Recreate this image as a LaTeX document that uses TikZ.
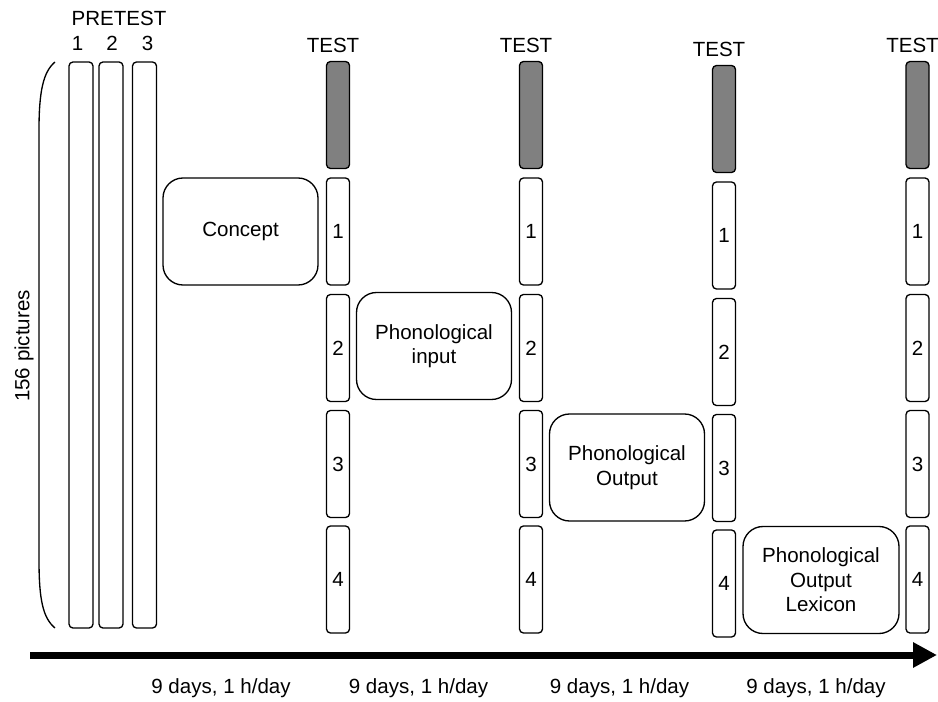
\documentclass[tikz,border=0pt]{standalone}
\usepackage{fontspec}
\setmainfont{Liberation Sans}
\usetikzlibrary{arrows.meta}
\newcommand{\pxu}{0.75pt}

\tikzset{
  bar/.style={draw, line width=1pt, rounded corners=3pt, inner sep=0pt,
    minimum width=23*\pxu, minimum height=107*\pxu},
  testbar/.style={bar, fill=black!50},
  prebar/.style={bar, minimum width=24*\pxu, minimum height=566*\pxu},
  stage/.style={draw, line width=1pt, rounded corners=15pt, inner sep=0pt,
    minimum width=155*\pxu, minimum height=107*\pxu, align=center},
  lbl/.style={inner sep=0pt, anchor=base},
  timeline/.style={line width=5.25pt, -{Triangle[length=18pt,width=18pt]}}
}

\begin{document}
\begin{tikzpicture}[x=\pxu, y=-\pxu, font=\fontsize{15.4}{18.4}\selectfont]
\useasboundingbox (0,0) rectangle (938,702);

% pretest
\node[lbl] (pretest) at (119,26) {PRETEST};
\foreach \k/\x/\lx in {1/81/77.5, 2/111/112, 3/144.5/147.5} {
  \node[lbl] (pre\k) at (\lx,51) {\k};
  \node[prebar] (prebar\k) at (\x,345) {};
}
\draw[line width=1pt] (55,62) .. controls (43,72) and (39,92) .. (39,130)
  -- (39,560) .. controls (39,600) and (43,618) .. (55,628);
\node[inner sep=0pt, rotate=90] (pictures) at (24,346) {156 pictures};

% test columns
\foreach \c/\x/\dy in {a/338/0, b/531/0, c/724/4, d/917.5/0} {
  \node[lbl] (test\c) at (\x-5,53+\dy) {TEST};
  \node[testbar] (grey\c) at (\x,115+\dy) {};
  \foreach \k/\y in {1/231.5, 2/348, 3/464, 4/579.5}
    \node[bar] (\c\k) at (\x,\y+\dy) {\k};
}

% training stages
\node[stage] (concept) at (240.5,231.5) {Concept};
\node[stage] (input) at (434,346) {Phonological\\input};
\node[stage] (output) at (627,467.5) {Phonological\\Output};
\node[stage, minimum width=156*\pxu] (lexicon) at (821,580) {Phonological\\Output\\Lexicon};

% time line
\coordinate (start) at (30,655);
\coordinate (end) at (937,655);
\draw[timeline] (start) -- (end);
\foreach \n/\x in {1/221, 2/418.5, 3/619.5, 4/816}
  \node[lbl] (days\n) at (\x,693) {9 days, 1 h/day};

\end{tikzpicture}
\end{document}
